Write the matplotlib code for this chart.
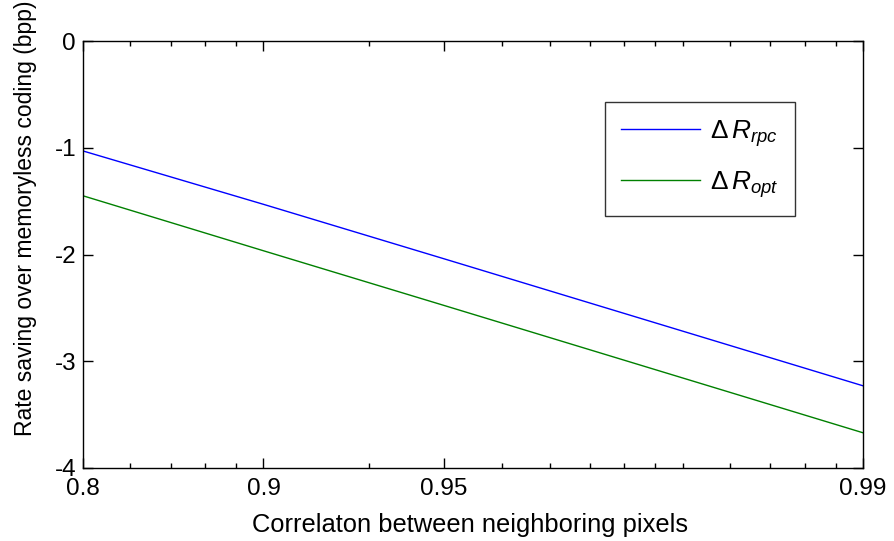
import numpy as np
import matplotlib
matplotlib.use("Agg")
from matplotlib import pyplot as plt

# correlation values and rate savings
rho = [0.8, 0.9, 0.95, 0.99]
dR_rpc = [-1.03, -1.53, -2.04, -3.23]
dR_opt = [-1.45, -1.965, -2.477, -3.67]

xticks = [0.8, 0.9, 0.95, 0.99]
xticklabels = ['0.8', '0.9', '0.95', '0.99']
# minor ticks sit at 1/(1-rho) = 6..9, 15, 25..50, 60..90
minor_u = [6, 7, 8, 9, 15, 25, 30, 35, 40, 45, 50, 60, 70, 80, 90]
yticks = [0, -1, -2, -3, -4]

plt.rcParams['font.family'] = ['Liberation Sans', 'DejaVu Sans']
plt.rcParams['mathtext.fontset'] = 'custom'
plt.rcParams['mathtext.rm'] = 'Liberation Sans'
plt.rcParams['mathtext.it'] = 'Liberation Sans:italic'


def fwd(r):
    r = np.clip(np.asarray(r, dtype=float), None, 1 - 1e-9)
    return -np.log10(1 - r)


def inv(v):
    return 1 - 10 ** (-np.asarray(v, dtype=float))


fig = plt.figure(figsize=(8.94, 5.41), dpi=100)
ax = fig.add_axes([83 / 894, 1 - 468 / 541, 780 / 894, 427 / 541])
ax.set_xscale('function', functions=(fwd, inv))

ax.plot(rho, dR_rpc, color='#0000ff', lw=1.0, label=r'$\Delta\,R_{rpc}$')
ax.plot(rho, dR_opt, color='#008000', lw=1.0, label=r'$\Delta\,R_{opt}$')

ax.set_xlim(0.8, 0.99)
ax.set_ylim(-4, 0)
ax.set_xticks(xticks)
ax.set_xticklabels(xticklabels)
ax.set_xticks([1 - 1 / u for u in minor_u], minor=True)
ax.set_yticks(yticks)
ax.set_yticklabels([str(t) for t in yticks])

ax.tick_params(which='both', direction='in', top=True, right=True,
               labelsize=17.5, width=1.0)
ax.tick_params(axis='x', pad=7)
ax.tick_params(axis='y', pad=5)
ax.tick_params(which='major', length=7)
ax.tick_params(which='minor', length=3.5)
ax.tick_params(axis='y', which='minor', left=False, right=False)
for s in ax.spines.values():
    s.set_linewidth(1.0)

ax.set_xlabel('Correlaton between neighboring pixels', fontsize=18.4)
ax.xaxis.set_label_coords(470 / 780 - 83 / 780, -(537 - 468) / 427)
ax.xaxis.label.set_va('bottom')
ax.set_ylabel('Rate saving over memoryless coding (bpp)', fontsize=16.5)
ax.yaxis.set_label_coords((37 - 83) / 780, (468 - 218) / 427)

leg = ax.legend(loc='upper left', bbox_to_anchor=(605 / 894, 1 - 102 / 541),
                bbox_transform=fig.transFigure, fontsize=19, frameon=True,
                fancybox=False, edgecolor='black', handlelength=3.0,
                borderpad=0.6, labelspacing=0.78, handletextpad=0.38,
                borderaxespad=0)
leg.get_frame().set_linewidth(1.0)

fig.savefig('out.png', dpi=100)
